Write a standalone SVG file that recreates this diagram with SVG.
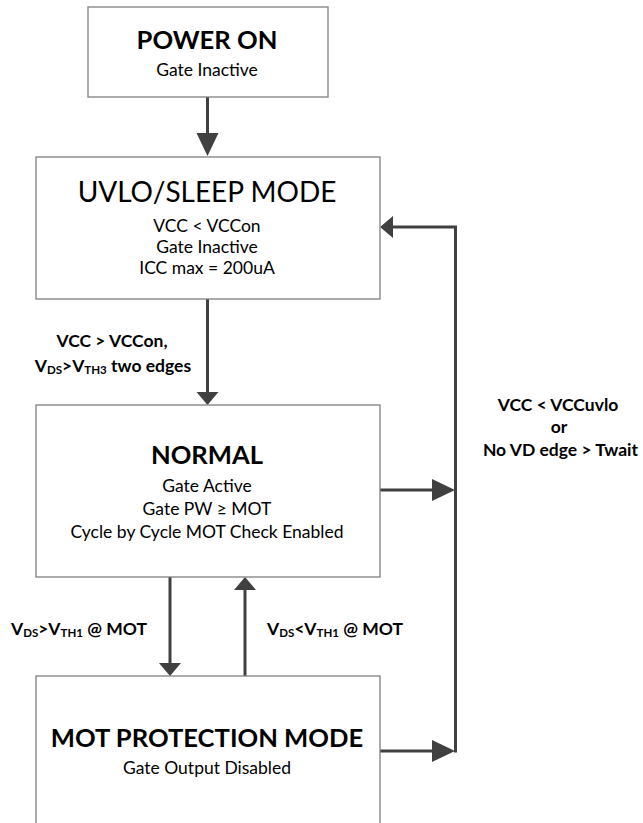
<svg xmlns="http://www.w3.org/2000/svg" width="643" height="823" viewBox="0 0 643 823">
<defs>
<style>
.box{fill:#fff;stroke:#7f7f7f;stroke-width:1.3}
.t{font-family:Lato,"Liberation Sans",sans-serif;fill:#000;text-anchor:middle}
.b{font-weight:bold}
.h{font-size:25.6px;font-weight:bold}
.h2{font-size:28px}
.s{font-size:17.5px}
.sub{font-size:11.5px}
.c{fill:none;stroke:#404040;stroke-width:3}
</style>
<marker id="ahL" markerUnits="userSpaceOnUse" markerWidth="24" markerHeight="24" refX="0" refY="11" orient="auto"><path d="M0,0 L23,11 L0,22 z" fill="#404040"/></marker>
<marker id="ahS" markerUnits="userSpaceOnUse" markerWidth="14" markerHeight="24" refX="0" refY="11" orient="auto"><path d="M0,0 L13,11 L0,22 z" fill="#404040"/></marker>
</defs>
<rect width="643" height="823" fill="#fff"/>
<g id="connectors">
<line class="c" x1="207.5" y1="97" x2="207.5" y2="133" marker-end="url(#ahL)"/>
<line class="c" x1="207.5" y1="299" x2="207.5" y2="392" marker-end="url(#ahS)"/>
<line class="c" x1="170" y1="577" x2="170" y2="663" marker-end="url(#ahS)"/>
<line class="c" x1="245" y1="676" x2="245" y2="590" marker-end="url(#ahS)"/>
<line class="c" x1="380" y1="490" x2="432" y2="490" marker-end="url(#ahL)"/>
<line class="c" x1="380" y1="751" x2="432" y2="751" marker-end="url(#ahL)"/>
<polyline class="c" points="455.5,752.5 455.5,227 393,227" marker-end="url(#ahS)"/>
</g>
<g id="power-on">
<rect class="box" x="88" y="7" width="240" height="90"/>
<text class="t h" x="207" y="49">POWER ON</text>
<text class="t s" x="207" y="76">Gate Inactive</text>
</g>
<g id="uvlo">
<rect class="box" x="36" y="157" width="344" height="142"/>
<text class="t h2" x="207" y="201.5">UVLO/SLEEP MODE</text>
<text class="t s" x="207" y="231.5">VCC &lt; VCCon</text>
<text class="t s" x="207" y="253">Gate Inactive</text>
<text class="t s" x="207" y="274">ICC max = 200uA</text>
</g>
<g id="normal">
<rect class="box" x="36" y="405" width="344" height="172"/>
<text class="t h" x="207" y="464">NORMAL</text>
<text class="t s" x="207" y="491.5">Gate Active</text>
<text class="t s" x="207" y="515">Gate PW ≥ MOT</text>
<text class="t s" x="207" y="538">Cycle by Cycle MOT Check Enabled</text>
</g>
<g id="mot-protection">
<rect class="box" x="36" y="676" width="344" height="160"/>
<text class="t h" x="207" y="746.5">MOT PROTECTION MODE</text>
<text class="t s" x="207" y="774">Gate Output Disabled</text>
</g>
<g id="labels">
<text class="t s b" x="112" y="347">VCC &gt; VCCon,</text>
<text class="t s b" x="113" y="371.5">V<tspan class="sub" dy="2">DS</tspan><tspan dy="-2">&gt;V</tspan><tspan class="sub" dy="2">TH3</tspan><tspan dy="-2"> two edges</tspan></text>
<text class="t s b" x="79" y="635">V<tspan class="sub" dy="2">DS</tspan><tspan dy="-2">&gt;V</tspan><tspan class="sub" dy="2">TH1</tspan><tspan dy="-2"> @ MOT</tspan></text>
<text class="t s b" x="335" y="635">V<tspan class="sub" dy="2">DS</tspan><tspan dy="-2">&lt;V</tspan><tspan class="sub" dy="2">TH1</tspan><tspan dy="-2"> @ MOT</tspan></text>
<text class="t s b" x="558" y="410.5">VCC &lt; VCCuvlo</text>
<text class="t s b" x="559" y="433">or</text>
<text class="t s b" x="560.5" y="455.5">No VD edge &gt; Twait</text>
</g>
</svg>
